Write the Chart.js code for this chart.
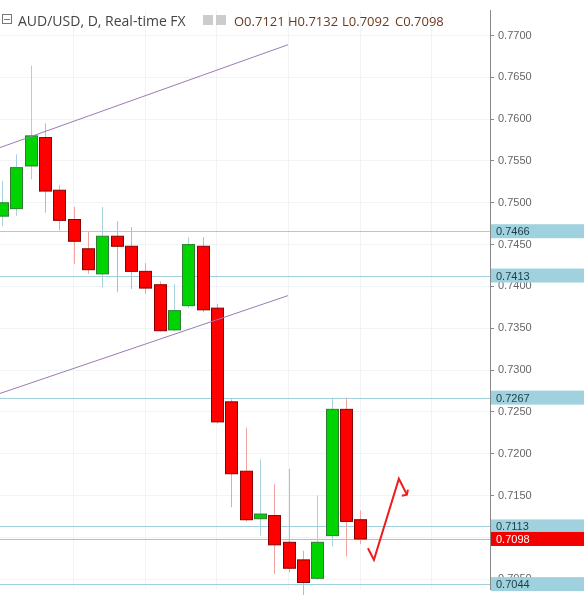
<!DOCTYPE html>
<html>
<head>
<meta charset="utf-8">
<script src="https://cdn.jsdelivr.net/npm/chart.js@4.4.1/dist/chart.umd.min.js"></script>
<style>
  html, body { margin: 0; padding: 0; background: #fff; }
  #wrap { position: relative; width: 584px; height: 600px; }
</style>
</head>
<body>
<div id="wrap"><canvas id="fxChart" width="584" height="600"></canvas></div>
<script>
// daily candles, AUD/USD
const opens  = [0.7484, 0.7493, 0.7544, 0.7578, 0.7515, 0.7480, 0.7445, 0.7415, 0.7460, 0.7448, 0.7418, 0.7402, 0.7348,
                0.7377, 0.7448, 0.7374, 0.7262, 0.7179, 0.7124, 0.7126, 0.7094, 0.7073, 0.7051, 0.7102, 0.7253, 0.7121];
const highs  = [0.7526, 0.7558, 0.7664, 0.7595, 0.7521, 0.7495, 0.7466, 0.7495, 0.7478, 0.7471, 0.7428, 0.7406, 0.7403,
                0.7459, 0.7459, 0.7379, 0.7265, 0.7231, 0.7193, 0.7164, 0.7182, 0.7084, 0.7150, 0.7267, 0.7267, 0.7132];
const lows   = [0.7472, 0.7484, 0.7528, 0.7488, 0.7467, 0.7427, 0.7415, 0.7399, 0.7393, 0.7397, 0.7391, 0.7346, 0.7346,
                0.7374, 0.7369, 0.7236, 0.7136, 0.7119, 0.7102, 0.7056, 0.7058, 0.7031, 0.7049, 0.7089, 0.7077, 0.7092];
const closes = [0.7500, 0.7542, 0.7580, 0.7514, 0.7479, 0.7454, 0.7420, 0.7460, 0.7448, 0.7418, 0.7398, 0.7347, 0.7371,
                0.7450, 0.7372, 0.7238, 0.7176, 0.7121, 0.7126, 0.7091, 0.7063, 0.7046, 0.7094, 0.7253, 0.7119, 0.7098];
const levels = [0.7466, 0.7413, 0.7267, 0.7113, 0.7044];
const lastPrice = 0.7098;
const yTicks = [0.7700, 0.7650, 0.7600, 0.7550, 0.7500, 0.7450, 0.7400, 0.7350, 0.7300, 0.7250, 0.7200, 0.7150, 0.7100, 0.7050];
const upperTrend = [{x: -0.14, y: 0.7566}, {x: 19.96, y: 0.7689}];
const lowerTrend = [{x: -0.14, y: 0.7272}, {x: 19.96, y: 0.7389}];
const arrowPath = [{x: 25.54, y: 0.7087}, {x: 25.96, y: 0.7073}, {x: 27.70, y: 0.7170}, {x: 28.26, y: 0.7151}];

const candlePlugin = {
  id: 'candles',
  beforeDatasetsDraw(chart) {
    const {ctx, scales: {x, y}, chartArea} = chart;
    ctx.save();
    ctx.lineWidth = 1;
    levels.forEach(v => {
      const py = Math.round(y.getPixelForValue(v)) + 0.5;
      ctx.strokeStyle = '#9fd0dc';
      ctx.beginPath(); ctx.moveTo(chartArea.left, py); ctx.lineTo(chartArea.right, py); ctx.stroke();
    });
    const py = Math.round(y.getPixelForValue(lastPrice)) + 0.5;
    ctx.strokeStyle = '#f3a0a0';
    ctx.beginPath(); ctx.moveTo(chartArea.left, py); ctx.lineTo(chartArea.right, py); ctx.stroke();

    const bw = x.getPixelForValue(1) - x.getPixelForValue(0);
    const half = Math.round(bw * 0.4);
    opens.forEach((o, i) => {
      const c = closes[i];
      const up = c >= o;
      const px = Math.round(x.getPixelForValue(i));
      ctx.strokeStyle = up ? '#a8d3dc' : '#f4a3a3';
      ctx.beginPath();
      ctx.moveTo(px + 0.5, y.getPixelForValue(highs[i]));
      ctx.lineTo(px + 0.5, y.getPixelForValue(lows[i]));
      ctx.stroke();
      let top = y.getPixelForValue(Math.max(o, c));
      let bot = y.getPixelForValue(Math.min(o, c));
      if (bot - top < 3) { top -= 1.5; bot += 1.5; }
      ctx.fillStyle = up ? '#00d400' : '#ff0000';
      ctx.fillRect(px - half, top, half * 2 + 1, bot - top);
      ctx.strokeStyle = up ? '#2e7d32' : '#8b0000';
      ctx.strokeRect(px - half + 0.5, top, half * 2, bot - top);
    });
    ctx.restore();
  },
  afterDraw(chart) {
    const {ctx, scales: {x, y}, chartArea} = chart;
    ctx.save();
    // arrow head at end of red path
    const a = arrowPath[arrowPath.length - 1];
    const ax = x.getPixelForValue(a.x), ay = y.getPixelForValue(a.y);
    ctx.strokeStyle = '#ee1c1c'; ctx.lineWidth = 2;
    ctx.beginPath(); ctx.moveTo(ax - 5, ay + 1); ctx.lineTo(ax, ay); ctx.lineTo(ax + 1, ay - 5); ctx.stroke();
    ctx.lineWidth = 1;

    ctx.font = '11px "Liberation Sans", Arial, sans-serif';
    ctx.textBaseline = 'middle';
    const tag = (v, bg, fg) => {
      const py = y.getPixelForValue(v);
      ctx.fillStyle = bg;
      ctx.fillRect(chartArea.right + 1, py - 7, 94, 14);
      ctx.fillStyle = fg;
      ctx.fillText(v.toFixed(4), chartArea.right + 6, py + 1);
    };
    levels.forEach(v => tag(v, '#9fd2de', '#1d3c44'));
    tag(lastPrice, '#f20000', '#ffffff');

    ctx.textBaseline = 'alphabetic';
    ctx.font = '14px "Open Sans", "DejaVu Sans", sans-serif';
    ctx.strokeStyle = '#777';
    ctx.strokeRect(2.5, 14.5, 9, 9);
    ctx.beginPath(); ctx.moveTo(4, 19.5); ctx.lineTo(10, 19.5); ctx.stroke();
    ctx.fillStyle = '#444';
    ctx.fillText('AUD/USD, D, Real-time FX', 18, 26);
    ctx.fillStyle = '#ccc';
    ctx.fillRect(203, 15, 10, 10);
    ctx.fillRect(216, 15, 10, 10);
    ctx.fillStyle = '#6b3a1e';
    ctx.font = '13px "Open Sans", "DejaVu Sans", sans-serif';
    ctx.fillText('O0.7121', 234, 26);
    ctx.fillText('H0.7132', 288, 26);
    ctx.fillText('L0.7092', 342, 26);
    ctx.fillText('C0.7098', 395, 26);
    ctx.restore();
  }
};

new Chart(document.getElementById('fxChart'), {
  type: 'scatter',
  data: {
    datasets: [
      { data: upperTrend, showLine: true, borderColor: '#9b7bb4', borderWidth: 1, pointRadius: 0 },
      { data: lowerTrend, showLine: true, borderColor: '#9b7bb4', borderWidth: 1, pointRadius: 0 },
      { data: arrowPath, showLine: true, borderColor: '#ee1c1c', borderWidth: 2, pointRadius: 0, tension: 0 }
    ]
  },
  options: {
    responsive: false,
    animation: false,
    devicePixelRatio: 1,
    layout: { padding: 0 },
    plugins: { legend: { display: false }, tooltip: { enabled: false } },
    scales: {
      x: {
        type: 'linear', min: -0.14, max: 34.06, display: true,
        ticks: { display: false },
        afterBuildTicks: s => { s.ticks = [5, 10, 15, 20, 25, 30].map(v => ({value: v})); },
        grid: { color: '#f1f4f6', drawTicks: false },
        border: { display: false },
        afterFit: s => { s.height = 0; }
      },
      y: {
        position: 'right', min: 0.70377, max: 0.77298,
        afterBuildTicks: s => { s.ticks = yTicks.map(v => ({value: v})); },
        afterFit: s => { s.width = 94; },
        ticks: {
          color: '#666', padding: 4,
          font: { size: 11, family: '"Liberation Sans", Arial, sans-serif' },
          callback: v => v.toFixed(4)
        },
        grid: { color: '#f1f4f6', tickLength: 4, tickColor: '#888' },
        border: { color: '#888' }
      }
    }
  },
  plugins: [candlePlugin]
});
</script>
</body>
</html>
